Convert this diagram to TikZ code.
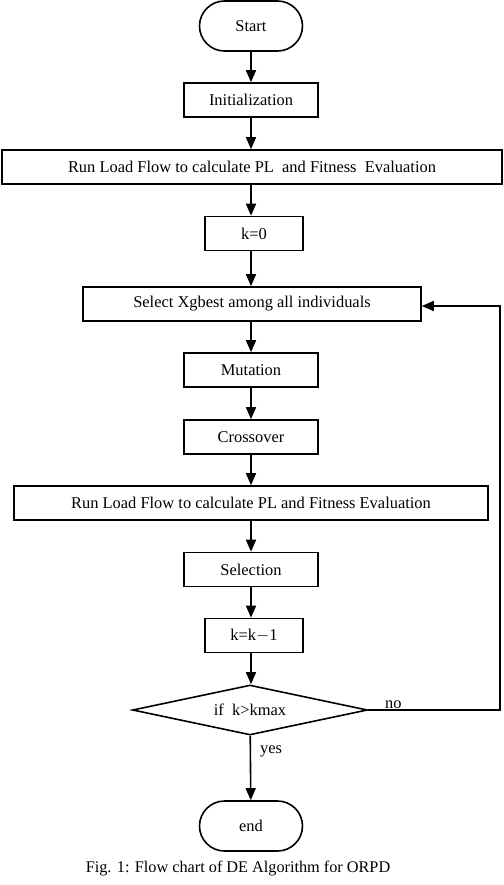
\documentclass[tikz,border=0pt]{standalone}
\usepackage{fontspec}
\setmainfont{Liberation Serif}
\usetikzlibrary{shapes.geometric,arrows.meta}

\begin{document}
\begin{tikzpicture}[x=1bp,y=-1bp,
    box/.style={draw,line width=1.6bp,minimum height=34bp,inner sep=0pt,font=\fontsize{16.5}{18}\selectfont},
    term/.style={box,minimum width=103bp,minimum height=50bp,rounded corners=25bp},
    arr/.style={line width=1.6bp,-{Triangle[length=12bp,width=10bp]}},
    lbl/.style={font=\fontsize{16.5}{18}\selectfont,inner sep=1bp}]
    \useasboundingbox (0,0) rectangle (504,885);

    \node[term] (start) at (251,26) {Start};
    \node[box,minimum width=134bp] (init) at (251,100) {Initialization};
    \node[box,minimum width=500bp] (run1) at (252,167) {Run Load Flow to calculate PL\ \ and Fitness\ \ Evaluation};
    \node[box,minimum width=98bp] (k0) at (254,233.5) {k=0};
    \node[box,minimum width=338bp] (select) at (252,304) {Select Xgbest among all individuals};
    \node[box,minimum width=134bp] (mut) at (251,370) {Mutation};
    \node[box,minimum width=134bp] (cross) at (251,437) {Crossover};
    \node[box,minimum width=474bp] (run2) at (251,503) {Run Load Flow to calculate PL and Fitness Evaluation};
    \node[box,minimum width=134bp] (sel) at (251,569.5) {Selection};
    \node[box,minimum width=98bp] (kk) at (254,635.5) {k=k$-$1};
    \node[box,diamond,aspect=4.7,minimum width=235bp,minimum height=50bp] (test) at (250,710) {if\enspace k>kmax};
    \node[term] (end) at (251,826) {end};
    \node[font=\fontsize{16.3}{18}\selectfont] (cap) at (238,869) {Fig. 1: Flow chart of DE Algorithm for ORPD};

    \coordinate (back1) at (500,710);
    \coordinate (back2) at (500,306);

    \draw[arr] (start) -- (init);
    \draw[arr] (init) -- (init |- run1.north);
    \draw[arr] (init |- run1.south) -- (init |- k0.north);
    \draw[arr] (init |- k0.south) -- (init |- select.north);
    \draw[arr] (mut |- select.south) -- (mut);
    \draw[arr] (mut) -- (cross);
    \draw[arr] (cross) -- (run2);
    \draw[arr] (run2) -- (sel);
    \draw[arr] (sel) -- (sel |- kk.north);
    \draw[arr] (sel |- kk.south) -- (sel |- test.north);
    \draw[arr] (test) -- node[lbl,right,pos=0.25,xshift=8bp] {yes} (end);
    \draw[arr] (test.east) -- node[lbl,above,pos=0.19] {no} (back1) -- (back2) -- (select.east |- back2);

\end{tikzpicture}
\end{document}
